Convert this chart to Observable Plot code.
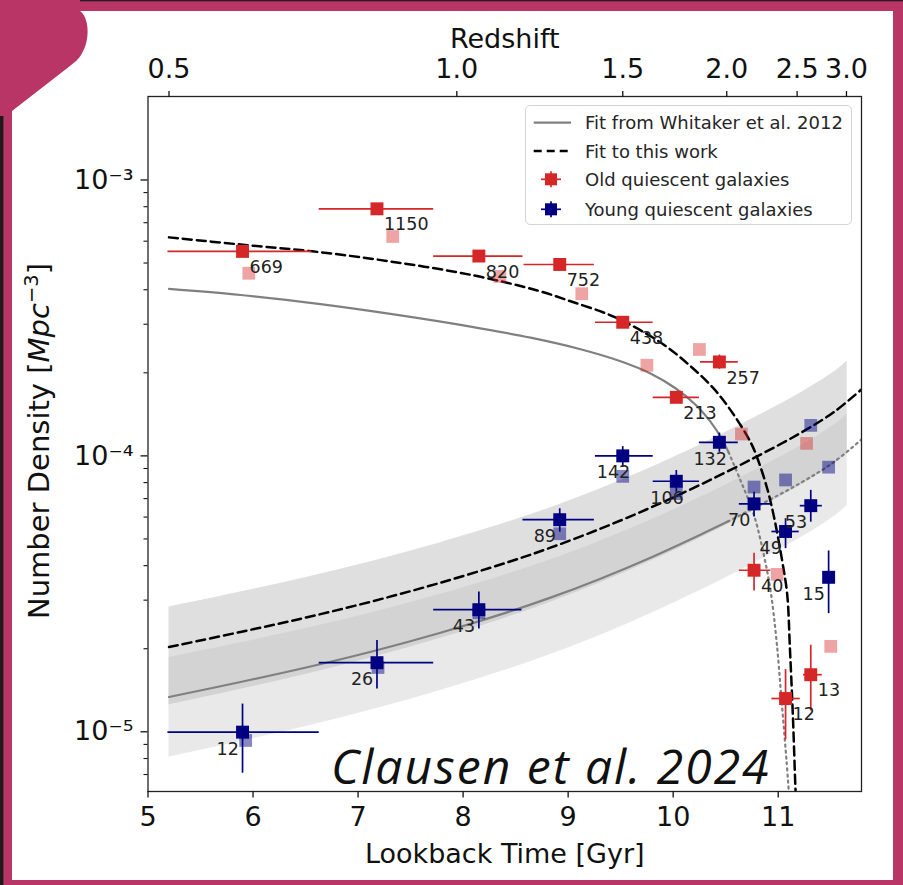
<!DOCTYPE html>
<html>
<head>
<meta charset="utf-8">
<script src="https://cdn.jsdelivr.net/npm/d3@7"></script>
<script src="https://cdn.jsdelivr.net/npm/@observablehq/plot@0.6"></script>
<style>
  html, body { margin: 0; padding: 0; background: #b93566; }
  #page { position: relative; width: 903px; height: 885px; background: #b93566; overflow: hidden; }
  #panel { position: absolute; left: 12px; top: 11px; width: 881px; height: 869px; background: #fff; }
  #chart { position: absolute; left: 0; top: 0; }
  #deco { position: absolute; left: 0; top: 0; pointer-events: none; }
  #legend { position: absolute; left: 525px; top: 105px; width: 327px; height: 120px; box-sizing: border-box;
            border: 1px solid #d4d4d4; border-radius: 5px; background: rgba(255,255,255,0.85); }
</style>
</head>
<body>
<div id="page">
  <div id="panel"></div>
  <div id="chart"></div>
  <div id="legend"></div>
  <svg id="deco" width="903" height="885">
    <rect x="0" y="0" width="903" height="1.3" fill="#2a1a22"></rect>
    <rect x="0" y="116" width="3.4" height="769" fill="#1d1a1c"></rect>
    <path d="M0,0 H80 V11 C89,17 91,40 81,55 C78,60 75,62 70,66 L12,111 H0 Z" fill="#b93566"></path>
  </svg>
</div>
<script>
// ---------------- data ----------------
const xTicks = [5, 6, 7, 8, 9, 10, 11];
const zTicks  = [0.5, 1.0, 1.5, 2.0, 2.5, 3.0];
const zTickT  = [5.20, 7.94, 9.52, 10.51, 11.18, 11.65];
const yMajor = [1e-5, 1e-4, 1e-3];
const yMinor = [7e-6, 8e-6, 9e-6,
  2e-5, 3e-5, 4e-5, 5e-5, 6e-5, 7e-5, 8e-5, 9e-5,
  2e-4, 3e-4, 4e-4, 5e-4, 6e-4, 7e-4, 8e-4, 9e-4];

// Old quiescent galaxies (red)
const oldLabel = ["669", "1150", "820", "752", "438", "213", "257", "40", "12", "13"];
const oldT     = [5.90, 7.18, 8.15, 8.92, 9.52, 10.03, 10.44, 10.77, 11.07, 11.31];
const oldTlo   = [5.19, 6.63, 7.72, 8.58, 9.26, 9.81, 10.26, 10.63, 10.94, 11.24];
const oldThi   = [6.56, 7.72, 8.57, 9.25, 9.81, 10.25, 10.62, 10.93, 11.21, 11.42];
const oldN     = [5.51e-4, 7.86e-4, 5.30e-4, 4.94e-4, 3.05e-4, 1.63e-4, 2.19e-4, 3.85e-5, 1.32e-5, 1.61e-5];
const oldNlo   = [5.30e-4, 7.60e-4, 5.10e-4, 4.75e-4, 2.92e-4, 1.56e-4, 2.06e-4, 3.24e-5, 9.35e-6, 1.19e-5];
const oldNhi   = [5.70e-4, 8.10e-4, 5.50e-4, 5.15e-4, 3.18e-4, 1.70e-4, 2.32e-4, 4.44e-5, 1.68e-5, 2.06e-5];
const oldAltT  = [5.96, 7.33, 8.35, 9.13, 9.75, 10.25, 10.65, 10.99, 11.27, 11.50];
const oldAltN  = [4.59e-4, 6.24e-4, 4.47e-4, 3.87e-4, 2.13e-4, 2.43e-4, 1.20e-4, 3.72e-5, 1.11e-4, 2.04e-5];

// Young quiescent galaxies (blue)
const youngLabel = ["12", "26", "43", "89", "142", "106", "132", "70", "49", "53", "15"];
const youngT   = [5.90, 7.18, 8.15, 8.92, 9.52, 10.03, 10.44, 10.77, 11.07, 11.31, 11.48];
const youngTlo = [5.19, 6.63, 7.72, 8.57, 9.26, 9.81, 10.25, 10.63, 10.94, 11.21, 11.48];
const youngThi = [6.63, 7.72, 8.56, 9.25, 9.81, 10.25, 10.62, 10.93, 11.20, 11.42, 11.48];
const youngN   = [9.97e-6, 1.78e-5, 2.77e-5, 5.87e-5, 1.00e-4, 8.09e-5, 1.12e-4, 6.70e-5, 5.32e-5, 6.60e-5, 3.63e-5];
const youngNlo = [7.08e-6, 1.43e-5, 2.36e-5, 5.29e-5, 9.10e-5, 7.38e-5, 1.03e-4, 6.00e-5, 4.61e-5, 5.75e-5, 2.68e-5];
const youngNhi = [1.26e-5, 2.14e-5, 3.21e-5, 6.43e-5, 1.08e-4, 8.85e-5, 1.21e-4, 7.38e-5, 5.92e-5, 7.50e-5, 4.52e-5];
const youngAltT = [5.93, 7.19, 8.15, 8.92, 9.52, 10.03, 10.77, 11.07, 11.31, 11.48];
const youngAltN = [9.3e-6, 1.71e-5, 2.70e-5, 5.22e-5, 8.43e-5, 7.30e-5, 7.71e-5, 8.18e-5, 1.29e-4, 9.10e-5];

// Fit to this work (black dashed), old galaxies
const fitOldT = [5.20, 5.881, 6.563, 7.309, 8.102, 8.706, 9.023, 9.451, 9.880, 10.134, 10.387, 10.577, 10.736, 10.800, 10.895, 10.958, 11.038, 11.086, 11.111, 11.139, 11.165, 11.170];
const fitOldN = [6.194e-4, 5.835e-4, 5.514e-4, 5.065e-4, 4.508e-4, 3.977e-4, 3.634e-4, 3.174e-4, 2.576e-4, 2.165e-4, 1.752e-4, 1.409e-4, 1.122e-4, 9.85e-5, 7.617e-5, 6.055e-5, 4.159e-5, 3.137e-5, 2.025e-5, 1.162e-5, 6.12e-6, 5.64e-6];
// Fit to this work (black dashed), young galaxies
const fitYoungT = [5.20, 5.881, 6.516, 7.150, 7.785, 8.420, 8.832, 9.308, 9.784, 10.260, 10.784, 11.213, 11.530, 11.793];
const fitYoungN = [2.029e-5, 2.300e-5, 2.601e-5, 2.980e-5, 3.470e-5, 4.111e-5, 4.648e-5, 5.447e-5, 6.490e-5, 7.865e-5, 9.892e-5, 1.211e-4, 1.441e-4, 1.741e-4];

// Whitaker et al. 2012 fit (grey), old galaxies: solid, then dotted
const whOldT  = [5.20, 5.881, 6.642, 7.404, 8.071, 8.642, 9.118, 9.499, 9.784, 10.022, 10.213, 10.355, 10.470, 10.527];
const whOldN  = [4.029e-4, 3.830e-4, 3.547e-4, 3.229e-4, 2.941e-4, 2.682e-4, 2.435e-4, 2.203e-4, 1.989e-4, 1.758e-4, 1.532e-4, 1.331e-4, 1.140e-4, 1.032e-4];
const whOldDT = [10.527, 10.641, 10.765, 10.860, 10.927, 10.984, 11.032, 11.079, 11.107];
const whOldDN = [1.032e-4, 8.15e-5, 6.18e-5, 4.43e-5, 3.25e-5, 2.14e-5, 1.30e-5, 7.86e-6, 5.64e-6];
// Whitaker et al. 2012 fit (grey), young galaxies: solid, then dotted
const whYoungT  = [5.20, 5.881, 6.516, 7.150, 7.785, 8.420, 8.832, 9.308, 9.784, 10.260, 10.52];
const whYoungN  = [1.337e-5, 1.515e-5, 1.714e-5, 1.963e-5, 2.286e-5, 2.709e-5, 3.063e-5, 3.589e-5, 4.276e-5, 5.182e-5, 5.780e-5];
const whYoungDT = [10.52, 10.784, 11.213, 11.530, 11.793];
const whYoungDN = [5.780e-5, 6.518e-5, 7.979e-5, 9.495e-5, 1.147e-4];

// Uncertainty bands (A: this work, B: Whitaker)
const bandT   = [5.20, 5.881, 6.516, 7.150, 7.785, 8.420, 8.832, 9.308, 9.784, 10.260, 10.784, 11.213, 11.530, 11.657];
const bandAlo = [1.251e-5, 1.425e-5, 1.620e-5, 1.865e-5, 2.182e-5, 2.598e-5, 2.947e-5, 3.466e-5, 4.146e-5, 5.042e-5, 6.368e-5, 7.822e-5, 9.329e-5, 1.021e-4];
const bandAhi = [2.834e-5, 3.212e-5, 3.633e-5, 4.162e-5, 4.846e-5, 5.741e-5, 6.491e-5, 7.607e-5, 9.064e-5, 1.098e-4, 1.382e-4, 1.691e-4, 2.012e-4, 2.201e-4];
const bandBlo = [8.104e-6, 9.230e-6, 1.048e-5, 1.207e-5, 1.412e-5, 1.680e-5, 1.905e-5, 2.240e-5, 2.678e-5, 3.256e-5, 4.111e-5, 5.047e-5, 6.020e-5, 6.591e-5];
const bandBhi = [1.857e-5, 2.101e-5, 2.371e-5, 2.710e-5, 3.149e-5, 3.723e-5, 4.203e-5, 4.918e-5, 5.849e-5, 7.078e-5, 8.886e-5, 1.086e-4, 1.291e-4, 1.412e-4];

// ---------------- build tables ----------------
const oldData = oldT.map((t, i) => ({t, lo: oldTlo[i], hi: oldThi[i], n: oldN[i], nlo: oldNlo[i], nhi: oldNhi[i], label: oldLabel[i]}));
const youngData = youngT.map((t, i) => ({t, lo: youngTlo[i], hi: youngThi[i], n: youngN[i], nlo: youngNlo[i], nhi: youngNhi[i], label: youngLabel[i]}));
const oldAlt = oldAltT.map((t, i) => ({t, n: oldAltN[i]}));
const youngAlt = youngAltT.map((t, i) => ({t, n: youngAltN[i]}));
const pts = (T, N) => T.map((t, i) => ({t, n: N[i]}));
const band = bandT.map((t, i) => ({t, alo: bandAlo[i], ahi: bandAhi[i], blo: bandBlo[i], bhi: bandBhi[i]}));

const zByT = new Map(zTickT.map((t, i) => [t, zTicks[i]]));
const supMap = {"-": "\u207B", "0": "\u2070", "1": "\u00B9", "2": "\u00B2", "3": "\u00B3", "4": "\u2074", "5": "\u2075", "6": "\u2076", "7": "\u2077", "8": "\u2078", "9": "\u2079"};
const pow10 = d => "10" + String(Math.round(Math.log10(d))).split("").map(c => supMap[c]).join("");

const RED = "#d62728", NAVY = "#000080", GREY = "#808080";
const FONT = "DejaVu Sans";

const chart = Plot.plot({
  width: 903, height: 885,
  marginLeft: 147.5, marginRight: 42, marginTop: 96, marginBottom: 94,
  style: {background: "transparent", fontFamily: FONT, color: "#111", overflow: "visible"},
  x: {domain: [5, 11.793], axis: null},
  y: {type: "log", domain: [6.075e-6, 2.007e-3], axis: null},
  marks: [
    Plot.areaY(band, {x: "t", y1: "blo", y2: "bhi", fill: "#c4c4c4", fillOpacity: 0.38, curve: "catmull-rom"}),
    Plot.areaY(band, {x: "t", y1: "alo", y2: "ahi", fill: "#b8b8b8", fillOpacity: 0.45, curve: "catmull-rom"}),
    Plot.line(pts(whOldT, whOldN), {x: "t", y: "n", stroke: GREY, strokeWidth: 2.2, curve: "catmull-rom"}),
    Plot.line(pts(whOldDT, whOldDN), {x: "t", y: "n", stroke: GREY, strokeWidth: 2.2, strokeDasharray: "2,4", curve: "catmull-rom", clip: true}),
    Plot.line(pts(whYoungT, whYoungN), {x: "t", y: "n", stroke: GREY, strokeWidth: 2.2, curve: "catmull-rom"}),
    Plot.line(pts(whYoungDT, whYoungDN), {x: "t", y: "n", stroke: GREY, strokeWidth: 2.2, strokeDasharray: "2,4", curve: "catmull-rom", clip: true}),
    Plot.line(pts(fitOldT, fitOldN), {x: "t", y: "n", stroke: "#000", strokeWidth: 2.5, strokeDasharray: "9,5", curve: "catmull-rom", clip: true}),
    Plot.line(pts(fitYoungT, fitYoungN), {x: "t", y: "n", stroke: "#000", strokeWidth: 2.5, strokeDasharray: "9,5", curve: "catmull-rom", clip: true}),
    Plot.dot(oldAlt, {x: "t", y: "n", symbol: "square", r: 7.2, fill: RED, fillOpacity: 0.42}),
    Plot.dot(youngAlt, {x: "t", y: "n", symbol: "square", r: 7.2, fill: NAVY, fillOpacity: 0.47}),
    Plot.ruleY(oldData, {y: "n", x1: "lo", x2: "hi", stroke: RED, strokeWidth: 1.7}),
    Plot.ruleX(oldData, {x: "t", y1: "nlo", y2: "nhi", stroke: RED, strokeWidth: 1.7}),
    Plot.ruleY(youngData, {y: "n", x1: "lo", x2: "hi", stroke: NAVY, strokeWidth: 1.7}),
    Plot.ruleX(youngData, {x: "t", y1: "nlo", y2: "nhi", stroke: NAVY, strokeWidth: 1.7}),
    Plot.dot(oldData, {x: "t", y: "n", symbol: "square", r: 7.3, fill: RED}),
    Plot.dot(youngData, {x: "t", y: "n", symbol: "square", r: 7.3, fill: NAVY}),
    Plot.text(oldData, {x: "t", y: "n", text: "label", dx: 7, dy: 16, textAnchor: "start", fontSize: 17.5, fill: "#222"}),
    Plot.text(youngData, {x: "t", y: "n", text: "label", dx: -26, dy: 17, textAnchor: "start", fontSize: 17.5, fill: "#222"}),
    Plot.text(["Clausen et al. 2024"], {text: d => d, frameAnchor: "bottom-right", textAnchor: "end", lineAnchor: "bottom",
      dx: -91, dy: -8, fontSize: 48, fontStyle: "italic", fontFamily: "Open Sans", fill: "#111", className: "credit"}),
    Plot.frame({stroke: "#222", strokeWidth: 1.3}),
    Plot.axisX({ticks: xTicks, anchor: "bottom", tickSize: 6.5, tickPadding: 9, fontSize: 27, strokeWidth: 1.3,
      tickFormat: d => String(d), label: "Lookback Time [Gyr]", labelAnchor: "center", labelOffset: 71, labelArrow: "none"}),
    Plot.axisX({ticks: zTickT, anchor: "top", tickSize: 6, tickPadding: 12.5, fontSize: 27, strokeWidth: 1.3,
      tickFormat: t => zByT.get(t).toFixed(1), label: "Redshift", labelAnchor: "center", labelOffset: 68, labelArrow: "none"}),
    Plot.axisY({ticks: yMinor, anchor: "left", tickSize: 4, tickFormat: () => "", label: null, strokeWidth: 1.1}),
    Plot.axisY({ticks: yMajor, anchor: "left", tickSize: 7, tickPadding: 7.5, fontSize: 27, strokeWidth: 1.3,
      tickFormat: pow10, label: null})
  ]
});
document.getElementById("chart").appendChild(chart);

const svg = d3.select(chart);
svg.selectAll(".credit text").attr("letter-spacing", 2);

// y-axis title with italic unit and superscript
const yl = svg.append("text")
  .attr("transform", "translate(49,441) rotate(-90)")
  .attr("text-anchor", "middle")
  .attr("font-family", FONT).attr("font-size", 29).attr("fill", "#111");
yl.append("tspan").text("Number Density [");
yl.append("tspan").attr("font-style", "italic").text("Mpc");
yl.append("tspan").attr("font-size", 19.5).attr("dy", -11).text("\u22123");
yl.append("tspan").attr("dy", 11).text("]");

// legend
const legendItems = ["Fit from Whitaker et al. 2012", "Fit to this work", "Old quiescent galaxies", "Young quiescent galaxies"];
const rowsY = [16.7, 45, 73.3, 103.3];
const lg = d3.select("#legend").append("svg").attr("width", 325).attr("height", 118);
lg.append("line").attr("x1", 7.7).attr("x2", 45).attr("y1", rowsY[0]).attr("y2", rowsY[0]).attr("stroke", GREY).attr("stroke-width", 2.2);
lg.append("line").attr("x1", 7.7).attr("x2", 45).attr("y1", rowsY[1]).attr("y2", rowsY[1]).attr("stroke", "#000").attr("stroke-width", 2.5).attr("stroke-dasharray", "8,5");
[[RED, rowsY[2]], [NAVY, rowsY[3]]].forEach(([c, y]) => {
  lg.append("line").attr("x1", 15).attr("x2", 35).attr("y1", y).attr("y2", y).attr("stroke", c).attr("stroke-width", 1.7);
  lg.append("line").attr("x1", 25).attr("x2", 25).attr("y1", y - 8).attr("y2", y + 8).attr("stroke", c).attr("stroke-width", 1.7);
  lg.append("rect").attr("x", 19).attr("y", y - 6).attr("width", 12).attr("height", 12).attr("fill", c);
});
legendItems.forEach((t, i) => {
  lg.append("text").attr("x", 59).attr("y", rowsY[i] + 6.5).attr("font-family", FONT).attr("font-size", 18).attr("fill", "#262626").text(t);
});
</script>
</body>
</html>
